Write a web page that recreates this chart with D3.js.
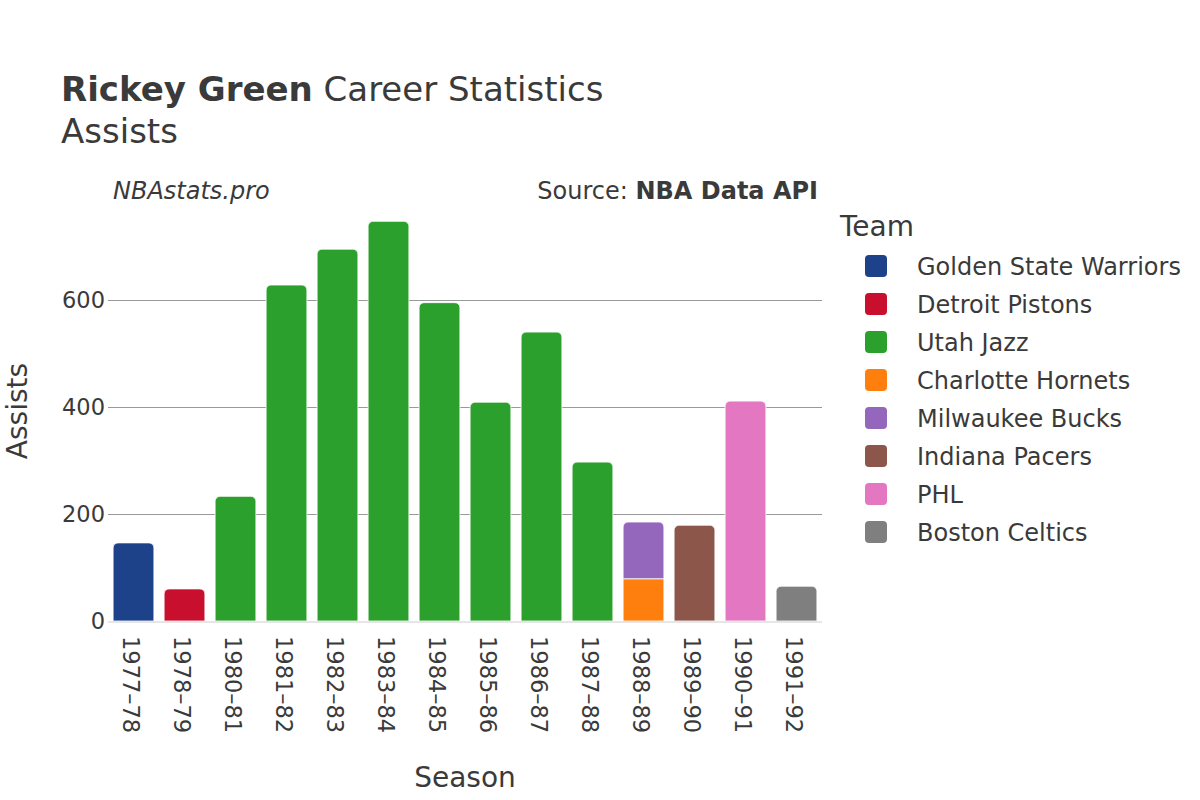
<!DOCTYPE html>
<html>
<head>
<meta charset="utf-8">
<script src="https://cdn.jsdelivr.net/npm/d3@7"></script>
<style>
  body { margin: 0; background: #fff; }
  svg text { fill: #3a3a3a; font-family: "DejaVu Sans", sans-serif; }
</style>
</head>
<body>
<svg id="chart" width="1200" height="800"></svg>
<script>
// seasons on the x axis
const seasons = ["1977–78", "1978–79", "1980–81", "1981–82", "1982–83", "1983–84", "1984–85",
  "1985–86", "1986–87", "1987–88", "1988–89", "1989–90", "1990–91", "1991–92"];

// teams, in legend order
const teams = ["Golden State Warriors", "Detroit Pistons", "Utah Jazz", "Charlotte Hornets",
  "Milwaukee Bucks", "Indiana Pacers", "PHL", "Boston Celtics"];
const teamColors = ["#1d428a", "#c8102e", "#2ca02c", "#ff7f0e", "#9467bd", "#8c564b", "#e377c2", "#7f7f7f"];

// assists per season for each team (0 = did not play for them)
const gswAst = [146, 0, 0, 0, 0, 0, 0, 0, 0, 0, 0, 0, 0, 0];
const detAst = [0, 60, 0, 0, 0, 0, 0, 0, 0, 0, 0, 0, 0, 0];
const utaAst = [0, 0, 233, 628, 695, 747, 595, 409, 540, 297, 0, 0, 0, 0];
const chaAst = [0, 0, 0, 0, 0, 0, 0, 0, 0, 0, 79, 0, 0, 0];
const milAst = [0, 0, 0, 0, 0, 0, 0, 0, 0, 0, 106, 0, 0, 0];
const indAst = [0, 0, 0, 0, 0, 0, 0, 0, 0, 0, 0, 179, 0, 0];
const phlAst = [0, 0, 0, 0, 0, 0, 0, 0, 0, 0, 0, 0, 411, 0];
const bosAst = [0, 0, 0, 0, 0, 0, 0, 0, 0, 0, 0, 0, 0, 65];

const yTicks = [0, 200, 400, 600];

const series = [gswAst, detAst, utaAst, chaAst, milAst, indAst, phlAst, bosAst];
const rows = seasons.map((s, i) => {
  const r = { season: s };
  teams.forEach((t, k) => r[t] = series[k][i]);
  return r;
});

const svg = d3.select("#chart");
const margin = { left: 108, right: 822, top: 201, bottom: 621 };

const x = d3.scaleBand().domain(seasons).range([margin.left, margin.right]).paddingInner(0.2).paddingOuter(0.1);
const y = d3.scaleLinear().domain([0, 785]).range([margin.bottom, margin.top]);
const color = d3.scaleOrdinal().domain(teams).range(teamColors);

// grid (snapped to pixel so it stays crisp)
svg.append("g").selectAll("line")
  .data(yTicks.filter(d => d > 0))
  .enter().append("line")
  .attr("x1", margin.left).attr("x2", margin.right)
  .attr("y1", d => Math.round(y(d)) + 0.5).attr("y2", d => Math.round(y(d)) + 0.5)
  .attr("stroke", "#999").attr("stroke-width", 1);

// stacked bars
const stacked = d3.stack().keys(teams)(rows);
const barG = svg.append("g");
stacked.forEach(layer => {
  layer.forEach((d, i) => {
    if (d[1] - d[0] <= 0) return;
    // rounded top only on the topmost segment of each column
    const total = d3.sum(teams, t => rows[i][t]);
    const x0 = x(seasons[i]), w = x.bandwidth();
    const yTop = y(d[1]), yBot = y(d[0]);
    const r = d[1] === total ? 5 : 0;
    const p = d3.path();
    p.moveTo(x0, yBot);
    p.lineTo(x0, yTop + r);
    if (r) p.arcTo(x0, yTop, x0 + r, yTop, r);
    p.lineTo(x0 + w - r, yTop);
    if (r) p.arcTo(x0 + w, yTop, x0 + w, yTop + r, r);
    p.lineTo(x0 + w, yBot);
    p.closePath();
    barG.append("path")
      .attr("d", p.toString())
      .attr("fill", color(layer.key))
      .attr("stroke", "#fff").attr("stroke-width", 0.8);
  });
});

// zero line
svg.append("line")
  .attr("x1", margin.left).attr("x2", margin.right)
  .attr("y1", y(0) + 1).attr("y2", y(0) + 1)
  .attr("stroke", "#e6e6e6").attr("stroke-width", 2);

// y axis
const yAxis = svg.append("g")
  .attr("transform", `translate(${margin.left},0)`)
  .call(d3.axisLeft(y).tickValues(yTicks).tickSize(0).tickPadding(3));
yAxis.select(".domain").remove();
yAxis.selectAll("text").attr("font-size", 22.5).style("fill", "#3a3a3a")
  .style("font-family", "DejaVu Sans");

// x axis (labels rotated 90)
const xAxis = svg.append("g")
  .attr("transform", `translate(0,${margin.bottom})`)
  .call(d3.axisBottom(x).tickSize(0));
xAxis.select(".domain").remove();
xAxis.selectAll("text")
  .attr("font-size", 22.5)
  .style("fill", "#3a3a3a")
  .style("font-family", "DejaVu Sans")
  .attr("text-anchor", "start")
  .attr("dy", "0.35em")
  .attr("transform", "translate(0,15) rotate(90)");

// axis titles
svg.append("text")
  .attr("x", (margin.left + margin.right) / 2).attr("y", 787)
  .attr("text-anchor", "middle").attr("font-size", 28).text("Season");
svg.append("text")
  .attr("transform", `translate(27,${(margin.top + margin.bottom) / 2}) rotate(-90)`)
  .attr("text-anchor", "middle").attr("font-size", 28).text("Assists");

// titles
const title = svg.append("text").attr("x", 61).attr("y", 101).attr("font-size", 34);
title.append("tspan").attr("font-weight", "bold").text("Rickey Green");
title.append("tspan").text(" Career Statistics");
svg.append("text").attr("x", 61).attr("y", 143).attr("font-size", 34).text("Assists");

svg.append("text").attr("x", 113).attr("y", 199)
  .attr("font-size", 24).attr("font-style", "italic").text("NBAstats.pro");
const src = svg.append("text").attr("x", 818).attr("y", 199)
  .attr("font-size", 24).attr("text-anchor", "end");
src.append("tspan").text("Source: ");
src.append("tspan").attr("font-weight", "bold").text("NBA Data API");

// legend
svg.append("text").attr("x", 840).attr("y", 236).attr("font-size", 28).text("Team");
const leg = svg.append("g").selectAll("g")
  .data(teams).enter().append("g")
  .attr("transform", (d, i) => `translate(865,${266 + i * 38})`);
leg.append("rect")
  .attr("x", 0).attr("y", -11).attr("width", 22).attr("height", 22)
  .attr("rx", 4).attr("fill", d => color(d));
leg.append("text")
  .attr("x", 52).attr("y", 1).attr("dy", "0.35em")
  .attr("font-size", 24).text(d => d);
</script>
</body>
</html>
